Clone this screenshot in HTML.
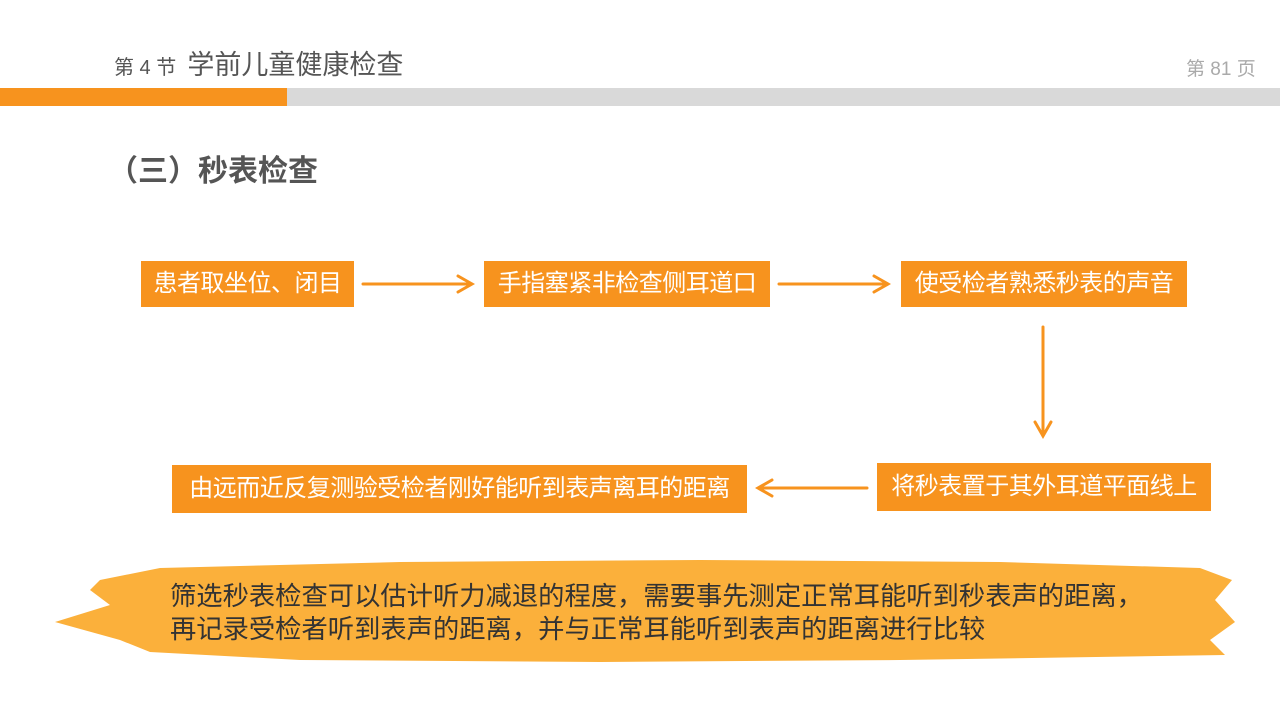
<!DOCTYPE html>
<html><head><meta charset="utf-8"><style>
body{margin:0;width:1280px;height:720px;background:#fff;position:relative;overflow:hidden;font-family:"Liberation Sans","Noto Sans CJK SC",sans-serif}
.a{position:absolute}
.box{position:absolute;background:#f7931e;color:#fff;font-size:24px;line-height:46px;text-align:center;white-space:nowrap;letter-spacing:-0.5px}
</style></head><body>
<div class="a" style="left:114px;top:43px;font-size:20px;color:#555">第 4 节&nbsp; <span style="font-size:27px">学前儿童健康检查</span></div>
<div class="a" style="left:1186px;top:54px;font-size:19px;color:#aaa">第 81 页</div>
<div class="a" style="left:0;top:88px;width:287px;height:18px;background:#f7931e"></div>
<div class="a" style="left:287px;top:88px;width:993px;height:18px;background:#d9d9d9"></div>
<div class="a" style="left:108px;top:146px;font-size:30px;font-weight:bold;color:#555">（三）秒表检查</div>

<div class="box" style="left:141px;top:261px;width:213px">患者取坐位、闭目</div>
<div class="box" style="left:484px;top:261px;width:286px">手指塞紧非检查侧耳道口</div>
<div class="box" style="left:901px;top:261px;width:286px">使受检者熟悉秒表的声音</div>
<div class="box" style="left:877px;top:463px;width:334px;line-height:48px">将秒表置于其外耳道平面线上</div>
<div class="box" style="left:172px;top:465px;width:575px;line-height:48px">由远而近反复测验受检者刚好能听到表声离耳的距离</div>

<svg class="a" style="left:0;top:0" width="1280" height="720">
<g stroke="#f7931e" stroke-width="3" fill="none" stroke-linecap="round">
<path d="M363 284H472M458 276L472 284L458 292"/>
<path d="M779 284H888M874 276L888 284L874 292"/>
<path d="M1043 327V436M1035 422L1043 436L1051 422"/>
<path d="M867 488H758M772 480L758 488L772 496"/>
</g>
<path d="M100 580 L160 568 L400 562 L700 560 L1000 562 L1200 568 L1232 580 L1215 600 L1235 622 L1210 640 L1225 655 L900 660 L600 662 L300 660 L150 652 L120 640 L55 622 L110 605 L90 590 Z" fill="#fbb03b"/>
</svg>
<div class="a" style="left:170px;top:580px;font-size:26.3px;line-height:33px;color:#333;white-space:nowrap">筛选秒表检查可以估计听力减退的程度，需要事先测定正常耳能听到秒表声的距离，<br>再记录受检者听到表声的距离，并与正常耳能听到表声的距离进行比较</div>
</body></html>
